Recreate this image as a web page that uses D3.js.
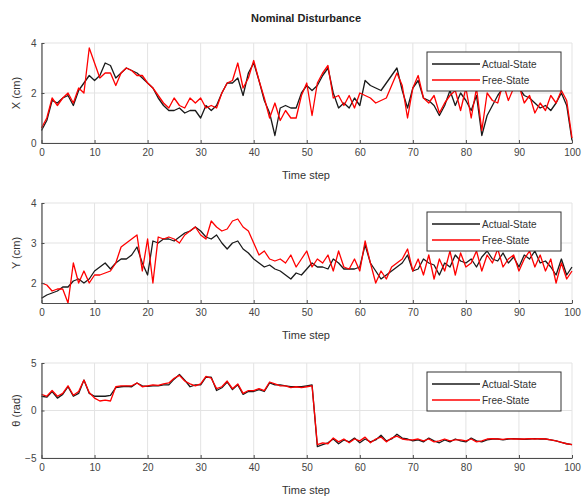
<!DOCTYPE html>
<html lang="en">
  <head>
    <meta charset="utf-8">
    <title>Nominal Disturbance</title>
    <script src="https://cdn.jsdelivr.net/npm/d3@7"></script>
    <style>
      body { margin: 0; background: #fff; }
      text { font-family: Arial, "Liberation Sans", sans-serif; }
    </style>
  </head>
  <body>
    <script>
      /* data (time step 0..100) */
      const timeSteps = d3.range(0, 101);
      const xTicks = [0, 10, 20, 30, 40, 50, 60, 70, 80, 90, 100];

      const xActual = [0.5, 0.9, 1.7, 1.6, 1.8, 1.9, 1.5, 2.1, 2.4, 2.7, 2.5, 2.7, 3.2, 3.1, 2.6, 2.8, 3.0, 2.9, 2.8, 2.6,
        2.4, 2.2, 1.8, 1.5, 1.3, 1.3, 1.4, 1.2, 1.3, 1.3, 1.0, 1.5, 1.3, 1.5, 2.0, 2.4, 2.4, 2.6, 1.9, 2.8,
        3.2, 2.5, 1.7, 1.2, 0.3, 1.4, 1.5, 1.4, 1.4, 2.0, 2.3, 2.1, 2.3, 2.7, 3.0, 2.0, 1.4, 1.6, 1.4, 1.8,
        1.5, 2.5, 2.3, 2.2, 2.1, 2.4, 2.7, 3.0, 2.1, 1.4, 2.2, 2.5, 1.8, 1.7, 1.5, 1.1, 1.5, 2.1, 1.5, 2.0,
        1.7, 1.3, 1.9, 0.3, 1.1, 1.5, 1.9, 2.2, 2.3, 2.4, 2.2, 1.9, 1.8, 1.6, 1.4, 1.5, 1.3, 1.6, 2.0, 1.5, 0.1];
      const xFree = [0.6, 1.0, 1.8, 1.5, 1.8, 2.0, 1.6, 2.2, 2.0, 3.8, 3.2, 2.6, 2.8, 2.8, 2.3, 2.8, 3.0, 2.9, 2.7, 2.7,
        2.4, 2.2, 1.9, 1.6, 1.4, 1.8, 1.5, 1.4, 1.8, 1.6, 1.8, 1.4, 1.5, 1.4, 2.0, 2.4, 2.5, 3.2, 2.2, 2.6,
        3.3, 2.5, 1.8, 1.0, 1.6, 0.9, 1.3, 1.0, 1.0, 1.9, 2.4, 1.1, 2.4, 2.8, 3.1, 1.8, 1.9, 1.5, 1.9, 1.4,
        2.0, 1.9, 1.8, 1.6, 1.7, 1.8, 2.3, 2.8, 2.3, 1.0, 2.2, 2.7, 1.8, 1.6, 1.9, 1.2, 1.6, 1.9, 2.1, 1.3,
        2.2, 1.0, 2.2, 0.5, 2.0, 1.7, 1.6, 2.4, 1.7, 2.2, 2.3, 1.6, 1.9, 1.2, 1.6, 1.3, 1.9, 1.6, 2.1, 1.7, 0.2];

      const yActual = [1.62, 1.7, 1.75, 1.8, 1.9, 1.9, 2.05, 2.1, 2.0, 2.1, 2.3, 2.4, 2.5, 2.35, 2.5, 2.6, 2.6, 2.7, 2.9, 2.5,
        2.2, 3.05, 3.0, 3.1, 3.1, 3.05, 3.15, 3.25, 3.3, 3.4, 3.3, 3.15, 3.1, 3.2, 3.0, 2.85, 3.0, 3.05, 2.85, 2.75,
        2.6, 2.5, 2.4, 2.45, 2.35, 2.3, 2.2, 2.1, 2.25, 2.2, 2.35, 2.5, 2.4, 2.4, 2.35, 2.6, 2.5, 2.35, 2.35, 2.35,
        2.4, 2.95, 2.5, 2.3, 2.1, 2.2, 2.3, 2.4, 2.5, 2.7, 2.3, 2.35, 2.6, 2.5, 2.45, 2.2, 2.5, 2.4, 2.7, 2.55,
        2.5, 2.6, 2.4, 2.65, 2.8, 2.6, 2.55, 2.75, 2.5, 2.65, 2.4, 2.7, 2.6, 2.8, 2.5, 2.55, 2.4, 2.2, 2.6, 2.2, 2.4];
      const yFree = [2.0, 1.95, 1.8, 1.85, 1.85, 1.5, 2.5, 2.0, 2.3, 2.0, 2.2, 2.2, 2.25, 2.3, 2.5, 2.9, 3.0, 3.1, 3.2, 2.3,
        3.1, 2.0, 3.15, 3.1, 3.15, 3.1, 3.0, 3.2, 3.3, 3.4, 3.2, 3.1, 3.55, 3.4, 3.3, 3.35, 3.55, 3.6, 3.4, 3.3,
        3.0, 2.7, 2.8, 2.6, 2.55, 2.6, 2.5, 2.7, 2.4, 2.6, 2.8, 2.4, 2.6, 2.5, 2.7, 2.3, 2.8, 2.4, 2.35, 2.6,
        2.3, 3.05, 2.5, 2.0, 2.3, 2.1, 2.4, 2.5, 2.6, 2.85, 2.3, 2.6, 2.2, 2.7, 2.1, 2.6, 2.3, 2.8, 2.2, 2.75,
        2.4, 2.5, 2.8, 2.3, 2.7, 2.5, 2.85, 2.4, 2.6, 2.7, 2.3, 2.6, 2.8, 2.4, 2.7, 2.3, 2.6, 2.0, 2.5, 2.1, 2.3];

      const thActual = [1.5, 1.4, 2.0, 1.3, 1.7, 2.5, 1.5, 1.8, 3.2, 1.8, 1.5, 1.5, 1.5, 1.6, 2.4, 2.5, 2.55, 2.5, 2.9, 2.6,
        2.55, 2.6, 2.6, 2.7, 2.7, 3.3, 3.8, 3.2, 2.5, 2.7, 2.7, 3.5, 3.5, 2.1, 2.4, 3.0, 2.2, 2.7, 1.7, 2.0,
        2.0, 2.2, 2.0, 2.9, 2.7, 2.7, 2.6, 2.5, 2.5, 2.5, 2.6, 2.7, -3.8, -3.6, -3.4, -3.0, -3.5, -3.1, -3.3, -2.9,
        -3.4, -3.0, -3.3, -3.1, -2.6, -3.2, -3.0, -2.5, -2.9, -3.0, -3.2, -3.1, -3.3, -2.9, -3.2, -3.4, -3.1, -3.3, -3.0, -3.2,
        -3.3, -2.9, -3.2, -3.3, -3.1, -3.0, -3.0, -3.1, -3.0, -2.95, -3.0, -3.05, -3.0, -2.95, -3.0, -3.0, -3.1, -3.2, -3.35, -3.5, -3.6];
      const thFree = [1.7, 1.5, 2.1, 1.5, 1.8, 2.6, 1.6, 2.0, 3.2, 1.9, 1.3, 1.0, 1.1, 1.0, 2.5, 2.6, 2.6, 2.6, 2.9, 2.5,
        2.6, 2.7, 2.65, 2.8, 2.9, 3.4, 3.7, 3.1, 2.8, 2.6, 2.8, 3.6, 3.4, 2.3, 2.5, 3.1, 2.3, 2.8, 1.8, 2.1,
        2.1, 2.3, 2.1, 3.0, 2.8, 2.6, 2.6, 2.4, 2.5, 2.4, 2.5, 2.6, -3.6, -3.4, -3.5, -2.9, -3.3, -3.0, -3.4, -3.0,
        -3.2, -2.8, -3.4, -3.0, -2.8, -3.3, -2.9, -2.7, -3.0, -3.1, -3.1, -3.0, -3.2, -3.0, -3.3, -3.2, -3.0, -3.2, -3.1, -3.1,
        -3.2, -3.0, -3.3, -3.2, -3.0, -2.95, -3.0, -3.05, -2.95, -3.0, -3.0, -3.0, -2.95, -3.0, -2.95, -3.0, -3.1, -3.2, -3.35, -3.5, -3.6];

      const legendNames = ["Actual-State", "Free-State"];
      const seriesColors = ["#1a1a1a", "#ff0000"];

      /* layout */
      const W = 585, H = 501;
      const X_LEFT = 41.5, X_RIGHT = 572;

      const panels = [
        {label: "X (cm)", actual: xActual, free: xFree, domain: [0, 4], ticks: [0, 2, 4], top: 43, bottom: 143},
        {label: "Y (cm)", actual: yActual, free: yFree, domain: [1.5, 4], ticks: [2, 3, 4], top: 203, bottom: 303},
        {label: "\u03b8 (rad)", actual: thActual, free: thFree, domain: [-5, 5], ticks: [-5, 0, 5], top: 363, bottom: 458}
      ];

      let svg = d3.select("body").append("svg")
        .attr("width", W)
        .attr("height", H);

      svg.append("text")
        .attr("x", 306)
        .attr("y", 22)
        .attr("text-anchor", "middle")
        .attr("font-size", 11)
        .attr("font-weight", "bold")
        .attr("fill", "#222")
        .text("Nominal Disturbance");

      let x = d3.scaleLinear().domain([0, 100]).range([X_LEFT, X_RIGHT]);

      panels.forEach(function(p) {
        let y = d3.scaleLinear().domain(p.domain).range([p.bottom, p.top]);
        let g = svg.append("g");

        // grid
        g.selectAll(".gx").data(xTicks).enter().append("line")
          .attr("x1", d => x(d)).attr("x2", d => x(d))
          .attr("y1", p.top).attr("y2", p.bottom)
          .attr("stroke", "#e3e3e3").attr("stroke-width", 1);
        g.selectAll(".gy").data(p.ticks).enter().append("line")
          .attr("x1", X_LEFT).attr("x2", X_RIGHT)
          .attr("y1", d => y(d)).attr("y2", d => y(d))
          .attr("stroke", "#e3e3e3").attr("stroke-width", 1);

        // series
        let line = d3.line()
          .x((d, i) => x(timeSteps[i]))
          .y(d => y(d));
        [p.actual, p.free].forEach(function(s, k) {
          g.append("path")
            .datum(s)
            .attr("d", line)
            .attr("fill", "none")
            .attr("stroke", seriesColors[k])
            .attr("stroke-width", 1.3)
            .attr("stroke-linejoin", "round");
        });

        // axes, MATLAB style: inward ticks, no box
        let xAxis = g.append("g")
          .attr("transform", "translate(0," + p.bottom + ")")
          .call(d3.axisBottom(x).tickValues(xTicks).tickFormat(d3.format("d"))
            .tickSizeInner(-3).tickSizeOuter(0).tickPadding(6));
        let yAxis = g.append("g")
          .attr("transform", "translate(" + X_LEFT + ",0)")
          .call(d3.axisLeft(y).tickValues(p.ticks).tickFormat(d3.format("d"))
            .tickSizeInner(-3).tickSizeOuter(0).tickPadding(5));
        [xAxis, yAxis].forEach(function(a) {
          a.select(".domain").attr("stroke", "#4d4d4d").attr("stroke-width", 1.2);
          a.selectAll(".tick line").attr("stroke", "#4d4d4d");
          a.selectAll(".tick text").attr("fill", "#444").attr("font-size", 10)
            .attr("font-family", "Arial, 'Liberation Sans', sans-serif");
        });

        g.append("text")
          .attr("x", 306)
          .attr("y", p.bottom + 36)
          .attr("text-anchor", "middle")
          .attr("font-size", 11)
          .attr("fill", "#333")
          .text("Time step");

        g.append("text")
          .attr("transform", "translate(20," + ((p.top + p.bottom) / 2) + ") rotate(-90)")
          .attr("text-anchor", "middle")
          .attr("font-size", 11)
          .attr("fill", "#333")
          .text(p.label);

        // legend
        let lg = g.append("g").attr("transform", "translate(427," + (p.top + 9) + ")");
        lg.append("rect")
          .attr("width", 134).attr("height", 39)
          .attr("fill", "#fff").attr("stroke", "#333").attr("stroke-width", 1);
        legendNames.forEach(function(name, k) {
          let ly = 12 + k * 16;
          lg.append("line")
            .attr("x1", 5).attr("x2", 53)
            .attr("y1", ly).attr("y2", ly)
            .attr("stroke", seriesColors[k]).attr("stroke-width", 1.3);
          lg.append("text")
            .attr("x", 55).attr("y", ly + 4)
            .attr("font-size", 10)
            .attr("fill", "#333")
            .text(name);
        });
      });
    </script>
  </body>
</html>
